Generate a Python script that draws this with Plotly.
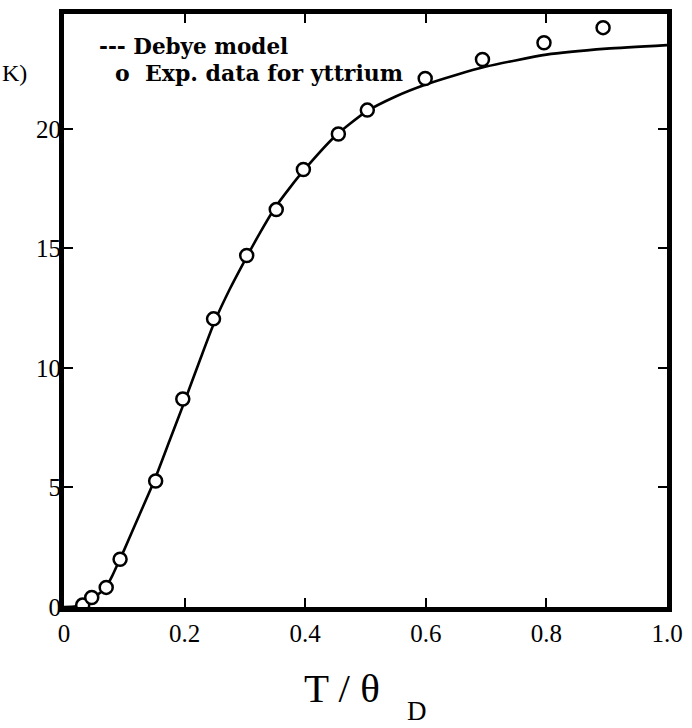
import plotly.graph_objects as go

# Debye model curve
model_x = [0, 0.02, 0.04, 0.05, 0.06, 0.07, 0.08, 0.09, 0.10, 0.125, 0.15, 0.175,
           0.20, 0.225, 0.25, 0.275, 0.30, 0.325, 0.35, 0.375, 0.40, 0.45, 0.50,
           0.55, 0.60, 0.65, 0.70, 0.80, 0.90, 1.0]
model_y = [0, 0.03, 0.25, 0.42, 0.6, 0.85, 1.3, 1.85, 2.4, 3.85, 5.3, 6.95,
           8.6, 10.3, 11.95, 13.3, 14.5, 15.65, 16.7, 17.55, 18.33, 19.7, 20.7,
           21.35, 21.85, 22.25, 22.6, 23.1, 23.35, 23.5]

# Experimental data for yttrium
exp_x = [0.031, 0.046, 0.07, 0.093, 0.152, 0.197, 0.248, 0.303, 0.352, 0.397,
         0.455, 0.503, 0.599, 0.694, 0.796, 0.894]
exp_y = [0.08, 0.4, 0.82, 2.0, 5.27, 8.7, 12.05, 14.7, 16.62, 18.3,
         19.78, 20.78, 22.1, 22.9, 23.6, 24.23]

x_tickvals = [0, 0.2, 0.4, 0.6, 0.8, 1.0]
x_ticktext = ["0", "0.2", "0.4", "0.6", "0.8", "1.0"]
y_tickvals = [0, 5, 10, 15, 20]
y_ticktext = ["0", "5", "10", "15", "20"]

fig = go.Figure()
fig.add_trace(go.Scatter(x=model_x, y=model_y, mode="lines",
                         line=dict(color="black", width=2.6, shape="spline", smoothing=0.6),
                         showlegend=False, hoverinfo="skip"))
fig.add_trace(go.Scatter(x=exp_x, y=exp_y, mode="markers",
                         marker=dict(symbol="circle", size=13, color="white",
                                     line=dict(color="black", width=2.5)),
                         showlegend=False))

serif = "Liberation Serif"
bold = "DejaVu Serif"

def px_x(p):
    return (p - 64) / 604

def px_y(p):
    return (607 - p) / 598

fig.update_layout(
    width=692, height=728,
    margin=dict(l=64, r=24, t=9, b=121),
    paper_bgcolor="white", plot_bgcolor="white",
    xaxis=dict(range=[0, 1], tickvals=x_tickvals, ticktext=x_ticktext,
               showgrid=False, zeroline=False, showline=True, linecolor="black",
               linewidth=5, mirror="ticks", ticks="inside", ticklen=9, tickwidth=2,
               tickcolor="black", ticklabelstandoff=0,
               tickfont=dict(family=serif, size=25, color="black")),
    yaxis=dict(range=[0, 24.8], tickvals=y_tickvals, ticktext=y_ticktext,
               showgrid=False, zeroline=False, showline=True, linecolor="black",
               linewidth=5, mirror="ticks", ticks="inside", ticklen=9, tickwidth=2,
               tickcolor="black", ticklabelstandoff=-7,
               tickfont=dict(family=serif, size=25, color="black")),
    annotations=[
        dict(text="<b>--- Debye model</b>", x=px_x(97), y=px_y(41.5),
             xref="paper", yref="paper", xanchor="left", yanchor="middle",
             showarrow=False, font=dict(family=bold, size=21.5, color="black")),
        dict(text="<b>o\u00a0\u00a0Exp. data for yttrium</b>", x=px_x(113),
             y=px_y(69), xref="paper", yref="paper", xanchor="left",
             yanchor="middle", showarrow=False,
             font=dict(family=bold, size=22, color="black")),
        dict(text="K)", x=px_x(0), y=px_y(69), xref="paper", yref="paper",
             xanchor="left", yanchor="middle", showarrow=False,
             font=dict(family=serif, size=24, color="black")),
        dict(text="T / θ", x=px_x(302), y=px_y(689), xref="paper",
             yref="paper", xanchor="left", yanchor="middle", showarrow=False,
             font=dict(family=serif, size=41, color="black")),
        dict(text="D", x=px_x(406), y=px_y(729), xref="paper",
             yref="paper", xanchor="left", yanchor="bottom", showarrow=False,
             font=dict(family=serif, size=27, color="black")),
    ],
)

fig.write_html("out.html", config={"displayModeBar": False},
               post_script="document.body.style.margin='0';document.body.style.padding='0';document.body.style.overflow='hidden';")
